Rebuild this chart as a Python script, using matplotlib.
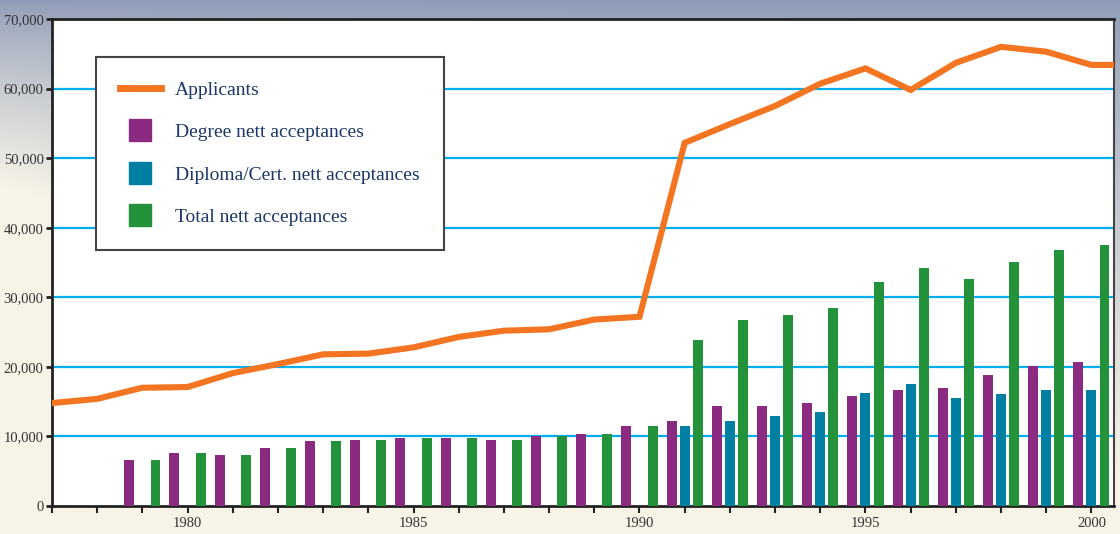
import numpy as np
import matplotlib
matplotlib.use("Agg")
import matplotlib.pyplot as plt
from matplotlib.lines import Line2D
from matplotlib.ticker import MultipleLocator, FuncFormatter

# ---- data ----
line_years = [1977, 1978, 1979, 1980, 1981, 1982, 1983, 1984, 1985, 1986, 1987,
              1988, 1989, 1990, 1991, 1992, 1993, 1994, 1995, 1996, 1997, 1998,
              1999, 2000, 2001]
applicants = [14800, 15400, 17000, 17100, 19100, 20400, 21800, 21900, 22800, 24300,
              25200, 25400, 26800, 27200, 52200, 54900, 57500, 60700, 62900, 59800,
              63700, 66000, 65300, 63400, 63400]

bar_years = [1979, 1980, 1981, 1982, 1983, 1984, 1985, 1986, 1987, 1988, 1989,
             1990, 1991, 1992, 1993, 1994, 1995, 1996, 1997, 1998, 1999, 2000]
degree = [6600, 7600, 7300, 8300, 9300, 9500, 9800, 9800, 9500, 10100, 10350,
          11500, 12200, 14400, 14400, 14800, 15800, 16700, 17000, 18800, 20100, 20700]
diploma = [0, 0, 0, 0, 0, 0, 0, 0, 0, 0, 0,
           0, 11500, 12200, 12900, 13500, 16200, 17500, 15500, 16100, 16700, 16700]
total = [6600, 7600, 7300, 8300, 9300, 9500, 9800, 9800, 9500, 10100, 10350,
         11500, 23900, 26700, 27500, 28500, 32200, 34200, 32600, 35100, 36800, 37500]

labels = ["Applicants", "Degree nett acceptances",
          "Diploma/Cert. nett acceptances", "Total nett acceptances"]

# ---- style ----
c_orange = "#f47521"
c_purple = "#8a2a80"
c_teal = "#007fa3"
c_green = "#23923b"
c_grid = "#00aeef"
c_text = "#1c3667"
serif = ["Liberation Serif", "DejaVu Serif"]
plt.rcParams["font.family"] = serif

W, H = 1120, 534
fig = plt.figure(figsize=(W / 100, H / 100), dpi=100)

# background gradient (bluish top fading to cream)
bg = fig.add_axes([0, 0, 1, 1], zorder=-10)
yy, xx = np.mgrid[0:H, 0:W]
t = np.clip(yy / (H * (0.35 + 0.55 * xx / W)), 0, 1) ** 0.8
top = np.array([0.56, 0.61, 0.72])
bot = np.array([0.97, 0.955, 0.905])
img = top[None, None, :] * (1 - t[..., None]) + bot[None, None, :] * t[..., None]
bg.imshow(img, aspect="auto", extent=[0, 1, 0, 1], origin="upper")
bg.set_axis_off()

ax = fig.add_axes([52 / W, 1 - 506 / H, (1114 - 52) / W, (506 - 19) / H])
ax.set_facecolor("white")

bw = 0.22
off = 0.29
by = np.array(bar_years, dtype=float)
ax.bar(by - off, degree, width=bw, color=c_purple, zorder=3)
ax.bar(by, diploma, width=bw, color=c_teal, zorder=3)
ax.bar(by + off, total, width=bw, color=c_green, zorder=3)
ax.plot(line_years, applicants, color=c_orange, lw=4.4, solid_joinstyle="miter",
        zorder=4)

ax.set_xlim(1977, 2000.5)
ax.set_ylim(0, 70000)

ax.yaxis.set_major_locator(MultipleLocator(10000))
ax.yaxis.set_major_formatter(FuncFormatter(lambda v, p: f"{int(v):,}"))
ax.xaxis.set_major_locator(MultipleLocator(1))
ax.xaxis.set_major_formatter(
    FuncFormatter(lambda v, p: f"{int(round(v))}" if int(round(v)) % 5 == 0 else ""))

for y in range(10000, 70000, 10000):
    ax.axhline(y, color=c_grid, lw=1.6, zorder=1)

ax.tick_params(axis="y", direction="out", length=4, width=2, color="#222",
               labelsize=10.5, labelcolor="#333", pad=2)
ax.tick_params(axis="x", direction="out", length=5, width=1.5, color="#222",
               labelsize=10.5, labelcolor="#333", pad=3)

for s in ["left", "bottom", "top"]:
    ax.spines[s].set_color("#222")
    ax.spines[s].set_linewidth(2)
ax.spines["right"].set_color("#444")
ax.spines["right"].set_linewidth(1.5)

handles = [
    Line2D([], [], color=c_orange, lw=5),
    Line2D([], [], ls="none", marker="s", markersize=16.5, color=c_purple),
    Line2D([], [], ls="none", marker="s", markersize=16.5, color=c_teal),
    Line2D([], [], ls="none", marker="s", markersize=16.5, color=c_green),
]
leg = ax.legend(handles, labels, loc="upper left",
                bbox_to_anchor=((96 - 52) / 1062, (506 - 57) / 487),
                borderaxespad=0, fancybox=False, framealpha=1,
                edgecolor="#444", prop={"family": serif, "size": 14},
                handlelength=2.07, handletextpad=0.75, labelspacing=1.27,
                borderpad=1.25)
leg.get_frame().set_linewidth(1.5)
for txt in leg.get_texts():
    txt.set_color(c_text)
leg.set_zorder(10)

fig.savefig("out.png", dpi=100)
